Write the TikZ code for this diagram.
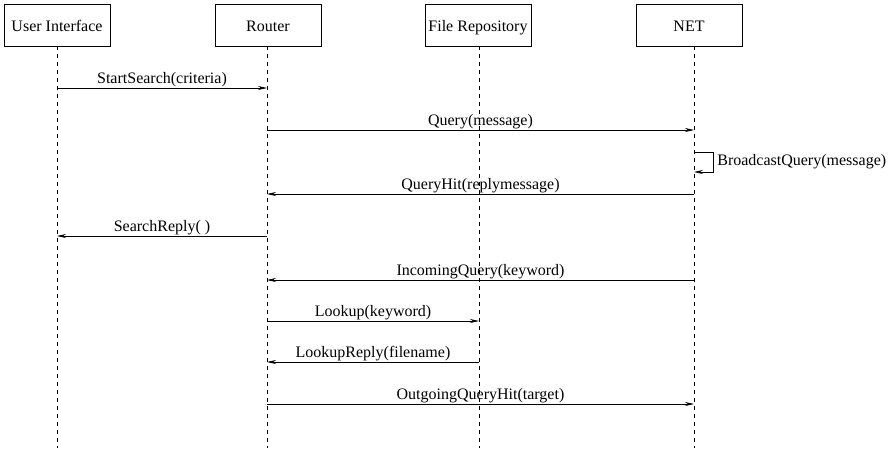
\documentclass[tikz,border=0pt]{standalone}
\usepackage{fontspec}
\setmainfont{Liberation Serif}
\usepackage{tikz}
\usetikzlibrary{arrows.meta, positioning}

\begin{document}
\begin{tikzpicture}[
    x=1pt, y=1pt,
    font=\fontsize{16}{19}\selectfont,
    actor/.style={draw, line width=0.8pt, minimum width=106pt, minimum height=42pt, inner sep=0pt,
        text height=12pt, text depth=0pt},
    life/.style={draw, line width=0.7pt, dash pattern=on 4pt off 4pt},
    msg/.style={-{Stealth[length=9pt, width=4pt]}, line width=0.7pt},
    lbl/.style={above, inner sep=1pt}
]
\useasboundingbox (0,0) rectangle (892,-448);

% Actors
\node[actor] (ui) at (57,-25) {User Interface};
\node[actor] (rt) at (268,-25) {Router};
\node[actor] (repo) at (478,-25) {File Repository};
\node[actor] (net) at (689,-25) {NET};

% Lifelines
\coordinate (uiL) at (57,-46);
\coordinate (rtL) at (267,-46);
\coordinate (repoL) at (479,-46);
\coordinate (netL) at (694,-46);
\coordinate (bottom) at (0,-448);
\foreach \a in {uiL, rtL, repoL, netL}
    \draw[life] (\a) -- (\a |- bottom);

% Message rows
\coordinate (m1) at (0,-88);
\coordinate (m2) at (0,-130);
\coordinate (m3a) at (0,-152);
\coordinate (m3b) at (0,-172);
\coordinate (m4) at (0,-194);
\coordinate (m5) at (0,-236);
\coordinate (m6) at (0,-280);
\coordinate (m7) at (0,-321);
\coordinate (m8) at (0,-362);
\coordinate (m9) at (0,-404);
\coordinate (loopR) at (713,0);

% Messages
\draw[msg] (uiL |- m1) -- node[lbl] {StartSearch(criteria)} (rtL |- m1);
\draw[msg] (rtL |- m2) -- node[lbl] {Query(message)} (netL |- m2);
\draw[msg] (netL |- m3a) -- (loopR |- m3a) -- (loopR |- m3b)
    node[right, midway, inner sep=4pt] {BroadcastQuery(message)} -- (netL |- m3b);
\draw[msg] (netL |- m4) -- node[lbl] {QueryHit(replymessage)} (rtL |- m4);
\draw[msg] (rtL |- m5) -- node[lbl] {SearchReply( )} (uiL |- m5);
\draw[msg] (netL |- m6) -- node[lbl] {IncomingQuery(keyword)} (rtL |- m6);
\draw[msg] (rtL |- m7) -- node[lbl] {Lookup(keyword)} (repoL |- m7);
\draw[msg] (repoL |- m8) -- node[lbl] {LookupReply(filename)} (rtL |- m8);
\draw[msg] (rtL |- m9) -- node[lbl] {OutgoingQueryHit(target)} (netL |- m9);
\end{tikzpicture}
\end{document}
